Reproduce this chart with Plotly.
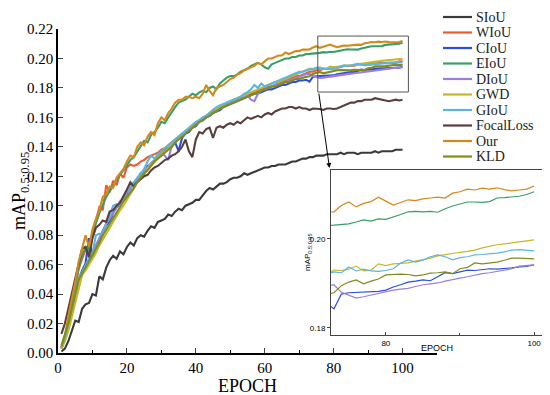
import plotly.graph_objects as go

epochs = list(range(1, 101))

names = ["SIoU", "WIoU", "CIoU", "EIoU", "DIoU", "GWD", "GIoU", "FocalLoss", "Our", "KLD"]
colors = ["#3a3a3a", "#ee5a30", "#2b4fd8", "#3a9e68", "#9a7fe0", "#c2b82a", "#5bb5e0", "#5b3f3c", "#d4891c", "#7f8e1a"]

SIoU = [0.001,0.003,0.008,0.015,0.022,0.021,0.030,0.033,0.034,0.040,
        0.039,0.052,0.050,0.058,0.063,0.066,0.064,0.069,0.067,0.072,
        0.075,0.073,0.078,0.080,0.079,0.083,0.086,0.085,0.089,0.090,
        0.091,0.094,0.093,0.096,0.098,0.097,0.100,0.101,0.102,0.104,
        0.104,0.107,0.110,0.112,0.111,0.113,0.115,0.115,0.116,0.118,
        0.119,0.119,0.120,0.122,0.121,0.122,0.123,0.124,0.125,0.126,
        0.126,0.127,0.127,0.128,0.128,0.128,0.129,0.130,0.130,0.131,
        0.132,0.132,0.133,0.133,0.134,0.134,0.134,0.135,0.135,0.135,
        0.135,0.136,0.135,0.136,0.136,0.136,0.135,0.136,0.136,0.136,
        0.136,0.137,0.136,0.137,0.137,0.137,0.137,0.138,0.138,0.138]

WIoU = [0.003,0.010,0.022,0.034,0.046,0.057,0.064,0.070,0.068,0.082,
        0.090,0.099,0.097,0.114,0.109,0.117,0.114,0.122,0.119,0.126,
        0.128,0.127,0.128,0.130,0.131,0.133,0.134,0.135,0.136,0.138,
        0.139,0.141,0.143,0.145,0.147,0.149,0.150,0.152,0.154,0.156,
        0.158,0.159,0.161,0.162,0.164,0.165,0.166,0.168,0.169,0.170,
        0.171,0.172,0.173,0.174,0.175,0.176,0.177,0.178,0.179,0.180,
        0.181,0.181,0.182,0.183,0.184,0.185,0.186,0.187,0.188,0.188,
        0.189,0.190,0.191,0.191,0.192,0.192,0.193,0.193,0.193,0.194,
        0.194,0.194,0.195,0.195,0.195,0.195,0.196,0.196,0.196,0.196,
        0.196,0.197,0.197,0.197,0.197,0.197,0.197,0.197,0.198,0.198]

CIoU = [0.004,0.010,0.019,0.029,0.040,0.050,0.056,0.061,0.078,0.065,
        0.072,0.077,0.083,0.087,0.089,0.095,0.099,0.101,0.106,0.108,
        0.113,0.115,0.117,0.122,0.122,0.127,0.128,0.130,0.134,0.134,
        0.138,0.139,0.140,0.143,0.137,0.146,0.149,0.150,0.153,0.154,
        0.157,0.158,0.160,0.161,0.163,0.164,0.165,0.167,0.168,0.169,
        0.170,0.171,0.172,0.173,0.174,0.175,0.176,0.176,0.177,0.178,
        0.179,0.179,0.180,0.181,0.182,0.182,0.183,0.184,0.184,0.185,
        0.185,0.1855,0.1843,0.1876,0.1879,0.1880,0.1881,0.1881,0.1882,0.1885,
        0.1892,0.1897,0.1903,0.1905,0.1908,0.1906,0.1915,0.1924,0.1922,0.1926,
        0.1930,0.1929,0.1931,0.1933,0.1932,0.1933,0.1935,0.1937,0.1938,0.1942]

EIoU = [0.003,0.010,0.022,0.034,0.046,0.058,0.066,0.072,0.070,0.080,
        0.088,0.095,0.101,0.106,0.110,0.114,0.117,0.121,0.124,0.128,
        0.131,0.133,0.137,0.140,0.144,0.143,0.148,0.150,0.153,0.157,
        0.156,0.160,0.164,0.167,0.170,0.171,0.172,0.174,0.176,0.175,
        0.177,0.178,0.177,0.180,0.181,0.179,0.183,0.185,0.187,0.188,
        0.188,0.189,0.191,0.192,0.193,0.195,0.196,0.197,0.196,0.194,
        0.193,0.196,0.197,0.198,0.199,0.200,0.200,0.201,0.201,0.202,
        0.202,0.203,0.2031,0.2032,0.2034,0.2038,0.2043,0.2040,0.2045,0.2044,
        0.2049,0.2055,0.2061,0.2062,0.2061,0.2062,0.2060,0.2068,0.2074,0.2079,
        0.2083,0.2083,0.2082,0.2084,0.2092,0.2093,0.2094,0.2096,0.2100,0.2106]

DIoU = [0.003,0.009,0.018,0.028,0.039,0.049,0.054,0.058,0.062,0.067,
        0.073,0.078,0.083,0.088,0.091,0.095,0.099,0.103,0.104,0.109,
        0.111,0.116,0.118,0.121,0.124,0.126,0.129,0.131,0.134,0.136,
        0.134,0.131,0.141,0.143,0.146,0.148,0.150,0.152,0.153,0.155,
        0.157,0.159,0.160,0.162,0.163,0.165,0.166,0.167,0.168,0.170,
        0.171,0.172,0.173,0.174,0.175,0.172,0.171,0.176,0.178,0.179,
        0.180,0.181,0.182,0.183,0.183,0.184,0.185,0.186,0.187,0.188,
        0.189,0.1895,0.1897,0.1880,0.1874,0.1867,0.1870,0.1874,0.1878,0.1882,
        0.1885,0.1887,0.1889,0.1893,0.1897,0.1899,0.1901,0.1905,0.1909,0.1912,
        0.1915,0.1919,0.1922,0.1924,0.1927,0.1930,0.1933,0.1939,0.1940,0.1942]

GWD = [0.003,0.008,0.015,0.024,0.034,0.044,0.053,0.056,0.060,0.064,
       0.068,0.073,0.077,0.082,0.086,0.090,0.093,0.097,0.100,0.104,
       0.108,0.112,0.116,0.119,0.122,0.125,0.128,0.130,0.133,0.135,
       0.137,0.139,0.142,0.144,0.146,0.148,0.150,0.152,0.154,0.156,
       0.158,0.160,0.161,0.163,0.165,0.166,0.167,0.168,0.170,0.171,
       0.172,0.173,0.174,0.175,0.176,0.177,0.178,0.179,0.180,0.181,
       0.182,0.183,0.184,0.184,0.185,0.186,0.187,0.188,0.189,0.190,
       0.191,0.192,0.1930,0.1929,0.1932,0.1939,0.1928,0.1930,0.1944,0.1940,
       0.1944,0.1945,0.1946,0.1950,0.1953,0.1957,0.1962,0.1965,0.1968,0.1970,
       0.1972,0.1975,0.1980,0.1984,0.1987,0.1989,0.1991,0.1993,0.1996,0.1998]

GIoU = [0.004,0.010,0.020,0.030,0.041,0.051,0.055,0.060,0.064,0.068,
        0.080,0.081,0.080,0.088,0.093,0.100,0.101,0.100,0.106,0.110,
        0.113,0.116,0.119,0.122,0.125,0.130,0.134,0.132,0.135,0.137,
        0.139,0.141,0.143,0.145,0.147,0.149,0.151,0.153,0.155,0.157,
        0.158,0.160,0.161,0.163,0.165,0.167,0.168,0.169,0.170,0.171,
        0.172,0.173,0.174,0.176,0.177,0.179,0.182,0.180,0.183,0.181,
        0.182,0.183,0.184,0.185,0.186,0.187,0.188,0.189,0.190,0.191,
        0.191,0.192,0.1926,0.1924,0.1937,0.1928,0.1932,0.1928,0.1927,0.1929,
        0.1933,0.1946,0.1953,0.1948,0.1952,0.1960,0.1964,0.1960,0.1953,0.1958,
        0.1960,0.1964,0.1965,0.1966,0.1968,0.1971,0.1975,0.1976,0.1975,0.1973]

FocalLoss = [0.013,0.020,0.030,0.040,0.050,0.060,0.071,0.072,0.065,0.078,
             0.085,0.087,0.090,0.089,0.096,0.097,0.100,0.102,0.106,0.111,
             0.116,0.113,0.116,0.118,0.120,0.121,0.124,0.126,0.127,0.129,
             0.131,0.132,0.134,0.135,0.137,0.140,0.145,0.137,0.133,0.145,
             0.150,0.149,0.152,0.153,0.146,0.153,0.154,0.153,0.155,0.156,
             0.155,0.157,0.156,0.158,0.160,0.159,0.160,0.161,0.160,0.162,
             0.163,0.162,0.164,0.165,0.166,0.166,0.167,0.167,0.166,0.167,
             0.166,0.166,0.165,0.166,0.166,0.1657,0.165,0.166,0.166,0.1657,
             0.166,0.167,0.168,0.169,0.170,0.170,0.171,0.171,0.172,0.172,
             0.172,0.173,0.1725,0.172,0.171,0.171,0.1715,0.172,0.1715,0.172]

Our = [0.004,0.012,0.025,0.036,0.048,0.062,0.072,0.080,0.072,0.084,
       0.091,0.097,0.106,0.108,0.113,0.112,0.119,0.122,0.125,0.130,
       0.134,0.133,0.140,0.143,0.141,0.147,0.150,0.148,0.156,0.160,
       0.158,0.163,0.166,0.170,0.172,0.172,0.174,0.174,0.173,0.174,
       0.173,0.176,0.182,0.178,0.175,0.180,0.181,0.182,0.184,0.186,
       0.187,0.189,0.190,0.192,0.193,0.194,0.195,0.197,0.196,0.198,
       0.200,0.200,0.201,0.202,0.202,0.204,0.203,0.204,0.205,0.205,
       0.206,0.206,0.2061,0.2075,0.2083,0.2072,0.2080,0.2084,0.2094,0.2085,
       0.2076,0.2082,0.2088,0.2086,0.2090,0.2092,0.2094,0.2092,0.2103,0.2106,
       0.2112,0.2110,0.2114,0.2112,0.2115,0.2111,0.2108,0.2110,0.2112,0.2119]

KLD = [0.005,0.012,0.020,0.030,0.040,0.050,0.054,0.058,0.062,0.066,
       0.071,0.075,0.080,0.084,0.088,0.092,0.096,0.099,0.103,0.106,
       0.109,0.112,0.116,0.119,0.122,0.124,0.127,0.130,0.132,0.134,
       0.136,0.138,0.140,0.143,0.145,0.147,0.149,0.151,0.153,0.155,
       0.157,0.158,0.160,0.161,0.163,0.164,0.166,0.167,0.168,0.169,
       0.170,0.171,0.172,0.173,0.174,0.175,0.176,0.177,0.178,0.179,
       0.180,0.181,0.181,0.182,0.183,0.184,0.184,0.185,0.186,0.186,
       0.187,0.1875,0.1879,0.1895,0.1903,0.1908,0.1899,0.1905,0.1910,0.1919,
       0.1920,0.1921,0.1920,0.1917,0.1919,0.1923,0.1924,0.1926,0.1922,0.1933,
       0.1936,0.1946,0.1944,0.1946,0.1948,0.1952,0.1957,0.1957,0.1956,0.1955]

series = [SIoU, WIoU, CIoU, EIoU, DIoU, GWD, GIoU, FocalLoss, Our, KLD]
inset_names = ["CIoU", "EIoU", "DIoU", "GWD", "GIoU", "Our", "KLD"]

x_ticks = [0, 20, 40, 60, 80, 100]
y_ticks = [0.00, 0.02, 0.04, 0.06, 0.08, 0.10, 0.12, 0.14, 0.16, 0.18, 0.20, 0.22]
inset_x_ticks = [80, 100]
inset_y_ticks = [0.18, 0.20]
main_x_range = [0, 110]
main_y_range = [0, 0.22]
inset_x_range = [72.6, 101.2]
inset_y_range = [0.1784, 0.2155]
zoom_box_x = [75.4, 101.7]
zoom_box_y = [0.1772, 0.2152]

SERIF = "Liberation Serif"
SANS = "Liberation Sans"

fig = go.Figure()
for n, c, s in zip(names, colors, series):
    fig.add_trace(go.Scatter(x=epochs, y=s, mode="lines", name=n,
                             line=dict(color=c, width=2.1), xaxis="x", yaxis="y",
                             showlegend=False))
for n, c, s in zip(names, colors, series):
    if n in inset_names:
        fig.add_trace(go.Scatter(x=epochs, y=s, mode="lines", name=n,
                                 line=dict(color=c, width=1.2), xaxis="x2", yaxis="y2",
                                 showlegend=False))

# the page adds an 8px body margin; work in page pixels and convert
OFF = 8
PAGE_W, PAGE_H = 550, 395
W, H = PAGE_W - OFF, PAGE_H - OFF
PL, PR, PT, PB = 58, 545, 29, 353   # plot-area edges in page pixels
L, T = PL - OFF, PT - OFF
R, B = W - (PR - OFF), H - (PB - OFF)
pw, ph = PR - PL, PB - PT
def px(xp):
    return (xp - PL) / pw
def py(yp):
    return (PB - yp) / ph

fig.update_layout(
    width=W, height=H,
    margin=dict(l=L, r=R, t=T, b=B, autoexpand=False),
    paper_bgcolor="white", plot_bgcolor="white",
    font=dict(family=SERIF, size=15, color="black"),
    xaxis=dict(domain=[0, px(437)], range=main_x_range, anchor="y", automargin=False,
               tickvals=x_ticks, ticks="inside", ticklen=5, tickwidth=1.3,
               minor=dict(dtick=10, tick0=0, ticks="inside", ticklen=3, tickcolor="black"),
               showline=True, linecolor="black", linewidth=1.5,
               showgrid=False, zeroline=False,
               tickfont=dict(family=SERIF, size=15)),
    yaxis=dict(domain=[0, 1], range=main_y_range, anchor="x", automargin=False,
               tickvals=y_ticks, tickformat=".2f", ticks="inside", ticklen=5, tickwidth=1.3,
               showline=True, linecolor="black", linewidth=1.5,
               showgrid=False, zeroline=False,
               tickfont=dict(family=SERIF, size=15)),
    xaxis2=dict(domain=[px(331), px(543)], range=inset_x_range, anchor="y2", automargin=False,
                tickvals=inset_x_ticks, ticks="inside", ticklen=3,
                minor=dict(dtick=10, tick0=0, ticks="inside", ticklen=2, tickcolor="#444"),
                showline=True, mirror=True, linecolor="#444", linewidth=1,
                showgrid=False, zeroline=False,
                tickfont=dict(family=SANS, size=8)),
    yaxis2=dict(domain=[py(335), py(170)], range=inset_y_range, anchor="x2", automargin=False,
                tickvals=inset_y_ticks, tickformat=".2f", ticks="outside", ticklen=3,
                showline=True, mirror=True, linecolor="#444", linewidth=1,
                showgrid=False, zeroline=False,
                tickfont=dict(family=SANS, size=8)),
)

shapes = [dict(type="rect", xref="x", yref="y",
               x0=zoom_box_x[0], x1=zoom_box_x[1], y0=zoom_box_y[0], y1=zoom_box_y[1],
               line=dict(color="#555", width=1))]
annotations = [
    dict(x=78.8, y=0.1256, ax=zoom_box_x[0] + 0.25, ay=zoom_box_y[0], xref="x", yref="y",
         axref="x", ayref="y", text="", showarrow=True, arrowhead=2, arrowsize=1,
         arrowwidth=1, arrowcolor="black"),
    dict(x=px(247.5), y=py(386), xref="paper", yref="paper", text="EPOCH", showarrow=False,
         font=dict(family=SERIF, size=18), xanchor="center", yanchor="middle"),
    dict(x=px(20), y=py(191), xref="paper", yref="paper", text="mAP<sub>0.5:0.95</sub>",
         showarrow=False, textangle=-90, font=dict(family=SERIF, size=18),
         xanchor="center", yanchor="middle"),
    dict(x=px(437), y=py(348), xref="paper", yref="paper", text="EPOCH", showarrow=False,
         font=dict(family=SANS, size=9), xanchor="center", yanchor="middle"),
    dict(x=px(308), y=py(252), xref="paper", yref="paper", text="mAP<sub>0.5:0.95</sub>",
         showarrow=False, textangle=-90, font=dict(family=SANS, size=8),
         xanchor="center", yanchor="middle"),
]
# legend
for i, (n, c) in enumerate(zip(names, colors)):
    yy = 17 + 15.5 * i
    shapes.append(dict(type="line", xref="paper", yref="paper",
                       x0=px(443), x1=px(472), y0=py(yy), y1=py(yy),
                       line=dict(color=c, width=2.2)))
    annotations.append(dict(x=px(474), y=py(yy), xref="paper", yref="paper", text=n,
                            showarrow=False, xanchor="left", yanchor="middle",
                            font=dict(family=SERIF, size=14, color="#222")))
fig.update_layout(shapes=shapes, annotations=annotations)

fig.write_html("out.html")
